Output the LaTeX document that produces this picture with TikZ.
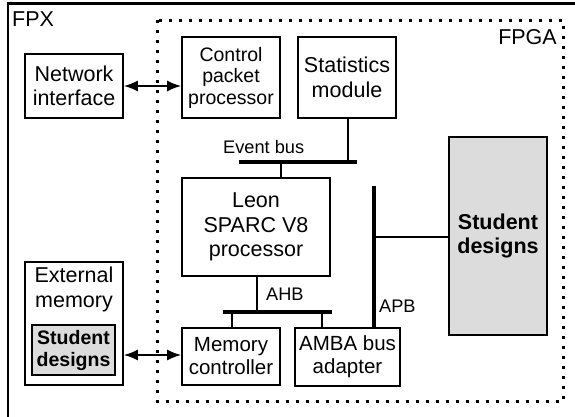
\documentclass[tikz,border=0pt]{standalone}
\usepackage{fontspec}
\setmainfont{Liberation Sans}
\usetikzlibrary{arrows.meta}
\definecolor{designgray}{HTML}{DCDCDC}
\tikzset{
  blk/.style={draw, line width=1.8pt, align=center, inner sep=0pt,
    font=\fontsize{21.5}{24.5}\selectfont},
  smallblk/.style={blk, font=\fontsize{19.5}{21.5}\selectfont},
  designblk/.style={blk, fill=designgray, font=\fontsize{21.5}{24.5}\selectfont\bfseries},
  bus/.style={line width=4pt},
  tap/.style={line width=1.4pt},
  link/.style={line width=1.6pt, {Latex[length=14pt,width=11pt]}-{Latex[length=14pt,width=11pt]}},
  lbl/.style={inner sep=0pt, anchor=base west, font=\fontsize{18.2}{21}\selectfont},
  biglbl/.style={inner sep=0pt, font=\fontsize{21.5}{24.5}\selectfont},
}
\begin{document}
\begin{tikzpicture}[x=1pt, y=-1pt]
\useasboundingbox (0,0) rectangle (575,416);
\begin{scope}
  \clip (0,0) rectangle (575,416);
  % board outline (runs off the page on the right and bottom)
  \draw[line width=2.2pt] (8,3.5) rectangle (600,440);
\end{scope}
% FPGA region
\draw[line width=3pt, dash pattern=on 3pt off 7pt] (157,20) rectangle (563,401.5);
\node[biglbl, anchor=base west] (fpx) at (12,26) {FPX};
\node[biglbl, anchor=base east] (fpga) at (557,44) {FPGA};

% blocks
\node[blk, minimum width=98pt, minimum height=64pt] (net) at (74,86) {Network\\interface};
\node[smallblk, minimum width=98pt, minimum height=81pt] (cpp) at (231,77.5) {Control\\packet\\processor};
\node[blk, minimum width=98pt, minimum height=81pt] (stat) at (347,77.5) {Statistics\\module};
\node[blk, minimum width=148pt, minimum height=98pt] (leon) at (256,227) {Leon\\SPARC V8\\processor};
\node[blk, minimum width=98pt, minimum height=57pt, font=\fontsize{20.5}{23}\selectfont] (mem) at (231,356.5) {Memory\\controller};
\node[blk, minimum width=105pt, minimum height=58pt, font=\fontsize{20.5}{23}\selectfont] (amba) at (347.5,357) {AMBA bus\\adapter};
\node[designblk, minimum width=98pt, minimum height=198pt] (sd) at (498,236) {Student\\designs};
\node[blk, minimum width=98pt, minimum height=123pt] (ext) at (74,323.5) {};
\node[biglbl, align=center, anchor=north] (exttxt) at (74,267) {External\\memory};
\node[designblk, minimum width=83pt, minimum height=50pt, font=\fontsize{19.5}{22}\selectfont\bfseries] (inner) at (73.5,350) {Student\\designs};

% off-chip links
\draw[link] (net.east) -- (net.east -| cpp.west);
\draw[link] (ext.east |- 0,355) -- (mem.west |- 0,355);

% event bus
\coordinate (ebA) at (239,162);
\coordinate (ebB) at (357,162);
\draw[bus] (ebA) -- (ebB);
\node[lbl] (eblbl) at (223,153) {Event bus};
\draw[tap] (stat.south -| 348,0) -- (348,162);
\draw[tap] (281,162) -- (leon.north -| 281,0);

% AHB
\coordinate (ahbA) at (223,312);
\coordinate (ahbB) at (332,312);
\draw[bus] (ahbA) -- (ahbB);
\node[lbl] (ahblbl) at (266,300) {AHB};
\draw[tap] (leon.south -| 257,0) -- (257,312);
\draw[tap] (232,312) -- (mem.north -| 232,0);
\draw[tap] (322,312) -- (amba.north -| 322,0);

% APB
\coordinate (apbTop) at (374,186);
\draw[line width=3.5pt] (apbTop) -- (amba.north -| apbTop);
\node[lbl] (apblbl) at (379,312) {APB};
\draw[tap] (374,237) -- (sd.west |- 0,237);
\end{tikzpicture}
\end{document}
